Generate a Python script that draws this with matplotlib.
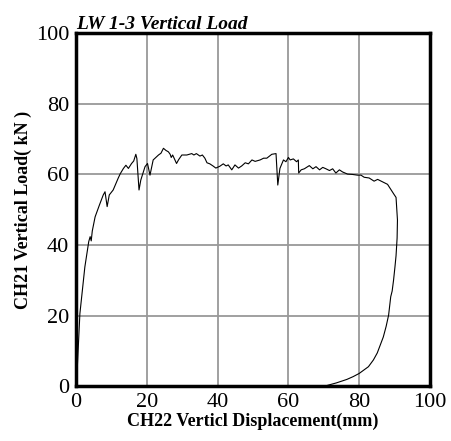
import matplotlib
matplotlib.use('Agg')
import matplotlib.pyplot as plt

plt.rcParams['font.family'] = ['Liberation Serif', 'DejaVu Serif']

# Displacement (mm) and load (kN) readings, loading branch then unloading
displacement = [0.0, 0.2, 1.1, 2.5, 3.6, 4.0, 4.3, 4.6, 5.4, 6.6, 7.7, 8.2, 8.8, 9.4,
                10.5, 11.9, 12.5, 13.4, 14.1, 14.8, 15.7, 16.3, 16.9, 17.2, 17.8,
                18.3, 19.5, 20.2, 20.9, 21.8, 23.3, 24.0, 24.7, 25.4, 26.1, 26.6,
                26.9, 27.3, 27.9, 28.4, 29.0, 29.9, 31.3, 32.7, 33.3, 34.0, 35.0,
                35.7, 36.4, 37.0, 37.8, 38.7, 39.5, 40.6, 41.6, 42.4, 43.0, 44.0,
                44.9, 45.9, 46.8, 47.8, 48.7, 49.7, 50.6, 52.0, 53.0, 53.9, 55.3,
                56.5, 57.0, 57.6, 58.6, 59.3, 60.0, 60.5, 61.4, 62.3, 62.8, 62.9,
                63.6, 64.5, 65.9, 66.9, 67.8, 68.8, 69.7, 70.6, 71.6, 72.5, 73.4,
                74.4, 75.3, 76.7, 78.1, 79.5, 80.5, 81.4, 82.8, 84.2, 85.2, 86.6,
                88.0, 88.9, 89.8, 90.4, 90.8, 90.7, 90.4, 90.1, 89.7, 89.3, 88.9,
                88.3, 87.6, 86.8, 85.1, 84.0, 82.6, 80.0, 78.3, 76.5, 73.5, 71.3,
                70.0]
load = [0.0, 1.8, 20.6, 33.8, 41.0, 42.4, 41.2, 44.0, 48.0, 51.3, 54.2, 55.1, 50.9, 54.2,
        55.6, 58.9, 60.2, 61.7, 62.6, 61.7, 63.1, 63.8, 65.7, 64.5, 55.6,
        58.4, 62.2, 63.1, 59.8, 64.1, 65.5, 66.0, 67.4, 66.8, 66.4, 65.7,
        64.8, 65.5, 64.2, 63.1, 64.2, 65.5, 65.5, 65.9, 65.5, 65.9, 65.2,
        65.5, 64.6, 63.3, 63.0, 62.4, 61.8, 62.3, 63.0, 62.4, 62.7, 61.3,
        62.7, 61.8, 62.4, 63.3, 63.0, 64.1, 63.7, 64.1, 64.6, 64.6, 65.7,
        65.9, 57.0, 61.7, 64.1, 63.6, 64.8, 64.1, 64.4, 63.6, 64.1, 60.4,
        61.3, 61.6, 62.5, 61.6, 62.2, 61.3, 62.0, 61.6, 61.1, 61.6, 60.4,
        61.3, 60.7, 60.1, 60.0, 59.8, 59.8, 59.2, 59.0, 58.1, 58.6, 57.9,
        57.2, 55.8, 54.4, 53.5, 47.1, 42.0, 37.0, 33.9, 30.1, 27.0, 25.4,
        20.2, 17.0, 14.0, 9.5, 7.5, 5.6, 3.7, 2.8, 2.0, 1.0, 0.4,
        0.0]

x_ticks = [0, 20, 40, 60, 80, 100]
y_ticks = [0, 20, 40, 60, 80, 100]

fig = plt.figure(figsize=(4.51, 4.41), dpi=100)
ax = fig.add_axes([0.1685, 0.1236, 0.785, 0.8014])

ax.plot(displacement, load, color='black', linewidth=0.8)

ax.set_xlim(0, 100)
ax.set_ylim(0, 100)
ax.set_xticks(x_ticks)
ax.set_yticks(y_ticks)
ax.tick_params(length=0, labelsize=16, pad=5)
ax.grid(True, color='#999999', linewidth=1.3)
ax.set_axisbelow(True)
for side in ax.spines.values():
    side.set_linewidth(2.5)
    side.set_color('black')

ax.set_xlabel('CH22 Verticl Displacement(mm)', fontsize=13, fontweight='bold', labelpad=0)
ax.set_ylabel('CH21 Vertical Load( kN )', fontsize=13, fontweight='bold', labelpad=3)
ax.set_title('LW 1-3 Vertical Load', fontsize=14, fontweight='bold', fontstyle='italic',
             loc='left', pad=3)

fig.savefig('out.png', dpi=100)
